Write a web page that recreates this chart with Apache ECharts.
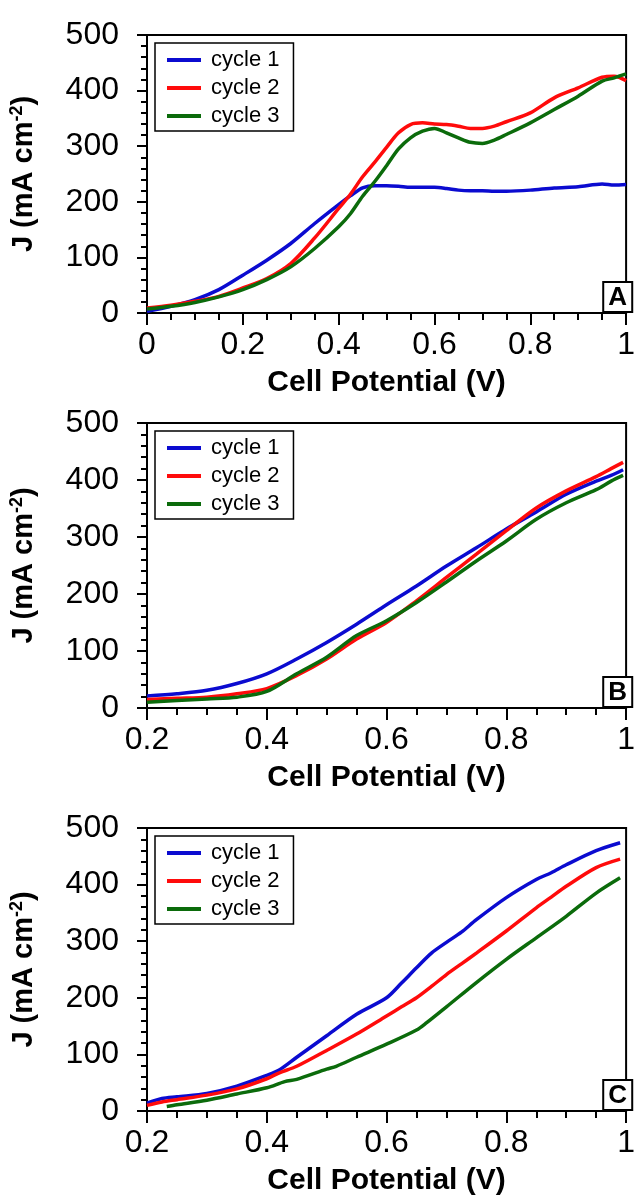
<!DOCTYPE html>
<html>
<head>
<meta charset="utf-8">
<script src="https://cdn.jsdelivr.net/npm/echarts@6/dist/echarts.min.js"></script>
<style>
  html, body { margin: 0; padding: 0; background: #fff; }
  #main { width: 638px; height: 1203px; }
</style>
</head>
<body>
<div id="main"></div>
<script>
// panel A: cycles over 0 - 1 V
var xA = [0, 0.05, 0.1, 0.15, 0.2, 0.25, 0.3, 0.35, 0.4, 0.425, 0.45, 0.475, 0.5, 0.525, 0.55, 0.575, 0.6, 0.625, 0.65, 0.675, 0.7, 0.725, 0.75, 0.8, 0.85, 0.9, 0.95, 0.975, 1];
var a1 = [3, 12, 24, 42, 68, 95, 125, 161, 195, 211, 225, 229, 229, 228, 226, 226, 226, 224, 221, 220, 220, 219, 219, 221, 225, 227, 232, 230, 231];
var a2 = [9, 14, 21, 30, 45, 62, 89, 135, 188, 214, 245, 271, 298, 324, 339, 342, 340, 339, 336, 332, 332, 336, 344, 360, 387, 405, 424, 426, 418];
var a3 = [7, 12, 19, 29, 42, 60, 83, 116, 155, 179, 210, 236, 265, 295, 315, 327, 332, 324, 315, 307, 305, 311, 321, 342, 366, 390, 417, 423, 430];

// panel B
var xB = [0.2, 0.25, 0.3, 0.35, 0.4, 0.45, 0.5, 0.55, 0.6, 0.65, 0.7, 0.75, 0.8, 0.85, 0.9, 0.95, 0.975, 0.995];
var b1 = [21, 25, 31, 43, 60, 86, 115, 147, 181, 214, 249, 281, 314, 344, 375, 398, 408, 418];
var b2 = [15, 17, 19, 25, 34, 57, 86, 121, 150, 188, 229, 270, 311, 351, 381, 406, 420, 431];
var b3 = [10, 13, 16, 19, 29, 60, 89, 127, 153, 185, 221, 258, 293, 331, 360, 383, 398, 408];

// panel C
var xC = [0.2, 0.225, 0.25, 0.3, 0.35, 0.4, 0.42, 0.45, 0.5, 0.55, 0.6, 0.625, 0.65, 0.675, 0.7, 0.725, 0.75, 0.8, 0.85, 0.875, 0.9, 0.95, 0.99];
var c1 = [14, 22, 25, 31, 44, 63, 72, 95, 133, 171, 200, 226, 253, 279, 298, 316, 338, 377, 409, 421, 435, 460, 474];
var c2 = [10, 16, 20, 28, 39, 57, 67, 79, 107, 136, 168, 184, 200, 220, 241, 260, 279, 318, 359, 378, 397, 430, 445];
var xC3 = [0.233, 0.25, 0.3, 0.35, 0.4, 0.43, 0.45, 0.5, 0.516, 0.55, 0.6, 0.65, 0.667, 0.7, 0.75, 0.8, 0.85, 0.9, 0.95, 0.99];
var c3 = [8, 11, 19, 30, 41, 52, 56, 74, 79, 95, 118, 143, 156, 184, 227, 268, 306, 344, 385, 412];

var names = ['cycle 1', 'cycle 2', 'cycle 3'];
var colors = ['#0b0bd0', '#ff0b0b', '#0b6b0b'];
var letters = ['A', 'B', 'C'];
var xMins = [0, 0.2, 0.2];

var FONT = '"Liberation Sans", Arial, sans-serif';
var myChart = echarts.init(document.getElementById('main'));

function pairs(xs, ys) {
    return xs.map(function (x, i) { return [x, ys[i]]; });
}

var grids = [
    { left: 147, right: 6, top: 35, height: 278 },
    { left: 147, right: 6, top: 423, height: 285 },
    { left: 147, right: 6, top: 828, height: 283 }
];
grids.forEach(function (g) {
    g.show = true;
    g.borderColor = '#000';
    g.borderWidth = 2;
    g.backgroundColor = 'transparent';
});

var xAxes = [], yAxes = [], legends = [], titles = [];
for (var i = 0; i < 3; i++) {
    xAxes.push({
        type: 'value', gridIndex: i, min: xMins[i], max: 1, interval: 0.2,
        name: 'Cell Potential (V)', nameLocation: 'middle', nameGap: 55,
        nameTextStyle: { fontFamily: FONT, fontSize: 30, fontWeight: 'bold', color: '#000' },
        axisLine: { onZero: false, lineStyle: { color: '#000', width: 2 } },
        axisTick: { length: 12, lineStyle: { color: '#000', width: 2 } },
        minorTick: { show: true, splitNumber: 4, length: 7, lineStyle: { color: '#000', width: 2 } },
        splitLine: { show: false },
        axisLabel: {
            fontFamily: FONT, fontSize: 32, color: '#000', margin: 16,
            formatter: function (v) { return (v === 0 || v === 1) ? String(v) : v.toFixed(1); }
        }
    });
    yAxes.push({
        type: 'value', gridIndex: i, min: 0, max: 500, interval: 100,
        name: '{b|J (mA cm}{s|-2}{b|)}', nameLocation: 'middle', nameGap: 107,
        nameTextStyle: {
            rich: {
                b: { fontFamily: FONT, fontSize: 29, fontWeight: 'bold', color: '#000', lineHeight: 32 },
                s: { fontFamily: FONT, fontSize: 18, fontWeight: 'bold', color: '#000', lineHeight: 32, verticalAlign: 'top', padding: [0, 0, 13, 0] }
            }
        },
        axisLine: { lineStyle: { color: '#000', width: 2 } },
        axisTick: { length: 10, lineStyle: { color: '#000', width: 2 } },
        minorTick: { show: true, splitNumber: 5, length: 6, lineStyle: { color: '#000', width: 2 } },
        splitLine: { show: false },
        axisLabel: { fontFamily: FONT, fontSize: 32, color: '#000', margin: 28 }
    });
    legends.push({
        data: names, orient: 'vertical', left: 155, top: grids[i].top + 8,
        icon: 'rect', itemWidth: 34, itemHeight: 4, itemGap: 6,
        padding: [6, 14, 4, 12],
        borderColor: '#000', borderWidth: 1.5, backgroundColor: '#fff',
        selectedMode: false,
        textStyle: { fontFamily: FONT, fontSize: 22, color: '#000', lineHeight: 22, padding: [0, 0, 0, 5] }
    });
    titles.push({
        text: letters[i], right: 6, top: grids[i].top + grids[i].height - 31,
        borderColor: '#000', borderWidth: 2, backgroundColor: '#fff',
        padding: [2, 5, 0, 5],
        textStyle: { fontFamily: FONT, fontSize: 26, fontWeight: 'bold', color: '#000', lineHeight: 28 }
    });
}

var seriesData = [
    [pairs(xA, a1), pairs(xA, a2), pairs(xA, a3)],
    [pairs(xB, b1), pairs(xB, b2), pairs(xB, b3)],
    [pairs(xC, c1), pairs(xC, c2), pairs(xC3, c3)]
];
var series = [];
seriesData.forEach(function (panel, p) {
    panel.forEach(function (d, k) {
        series.push({
            name: names[k], type: 'line', xAxisIndex: p, yAxisIndex: p,
            data: d, showSymbol: false, symbol: 'none', smooth: 0.3,
            color: colors[k],
            lineStyle: { color: colors[k], width: 3.5 },
            z: 3 + k
        });
    });
});

option = {
    animation: false,
    backgroundColor: '#fff',
    title: titles,
    legend: legends,
    grid: grids,
    xAxis: xAxes,
    yAxis: yAxes,
    series: series
};
myChart.setOption(option);
</script>
</body>
</html>
